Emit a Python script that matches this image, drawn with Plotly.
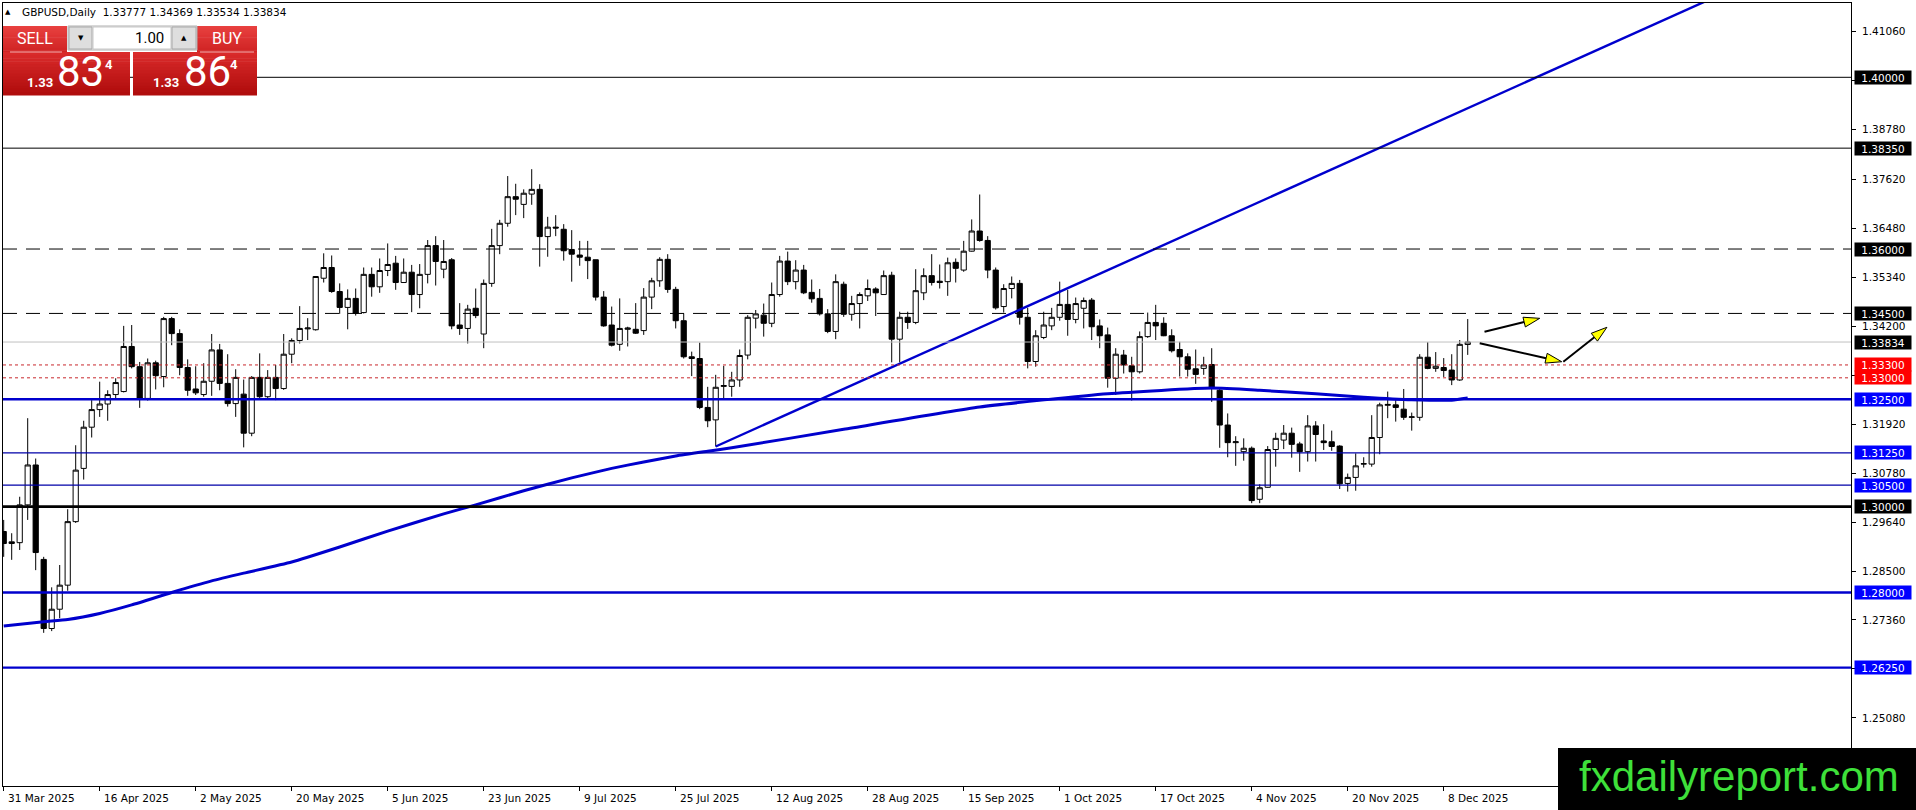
import numpy as np
import pandas as pd
import plotly.graph_objects as go

# ---------------- data ----------------
dates = pd.bdate_range("2025-03-31", periods=184)

open_ = [1.2942,1.2914,1.2916,1.3004,1.3097,1.2877,1.2716,1.2761,1.2817,1.2965,
         1.3089,1.3185,1.3226,1.3239,1.3261,1.3268,1.3373,1.3326,1.3252,1.3335,
         1.3303,1.3438,1.3403,1.3324,1.3274,1.3261,1.3292,1.3365,1.3287,1.3240,
         1.3262,1.3171,1.3301,1.3256,1.3301,1.3275,1.3355,1.3387,1.3414,1.3412,
         1.3532,1.3557,1.3501,1.3464,1.3485,1.3452,1.3541,1.3512,1.3550,1.3567,
         1.3522,1.3546,1.3494,1.3541,1.3608,1.3553,1.3575,1.3423,1.3415,1.3462,
         1.3402,1.3520,1.3608,1.3660,1.3722,1.3704,1.3728,1.3739,1.3629,1.3651,
         1.3646,1.3599,1.3586,1.3581,1.3575,1.3488,1.3423,1.3378,1.3413,1.3413,
         1.3410,1.3488,1.3526,1.3576,1.3506,1.3433,1.3349,1.3345,1.3231,1.3202,
         1.3280,1.3280,1.3295,1.3353,1.3439,1.3446,1.3427,1.3494,1.3572,1.3524,
         1.3551,1.3499,1.3485,1.3449,1.3408,1.3518,1.3448,1.3473,1.3491,1.3507,
         1.3494,1.3539,1.3390,1.3441,1.3429,1.3498,1.3538,1.3525,1.3524,1.3569,
         1.3551,1.3595,1.3642,1.3620,1.3551,1.3466,1.3508,1.3520,1.3441,1.3338,
         1.3394,1.3421,1.3441,1.3471,1.3436,1.3462,1.3481,1.3421,1.3400,1.3299,
         1.3353,1.3328,1.3314,1.3396,1.3429,1.3427,1.3398,1.3366,1.3349,1.3321,
         1.3322,1.3331,1.3271,1.3190,1.3149,1.3128,1.3136,1.3017,1.3045,1.3133,
         1.3155,1.3171,1.3146,1.3128,1.3188,1.3153,1.3151,1.3141,1.3054,1.3068,
         1.3099,1.3099,1.3161,1.3236,1.3237,1.3227,1.3208,1.3208,1.3348,1.3322,
         1.3324,1.3318,1.3295,1.33777]
high = [1.2969,1.2938,1.3023,1.3206,1.3112,1.2883,1.2812,1.2864,1.2994,1.3143,
        1.3200,1.3248,1.3291,1.3271,1.3299,1.3421,1.3423,1.3337,1.3345,1.3340,
        1.3442,1.3442,1.3413,1.3343,1.3327,1.3334,1.3402,1.3379,1.3355,1.3320,
        1.3296,1.3304,1.3357,1.3318,1.3330,1.3402,1.3392,1.3467,1.3439,1.3537,
        1.3590,1.3585,1.3520,1.3506,1.3508,1.3557,1.3557,1.3578,1.3613,1.3584,
        1.3578,1.3563,1.3565,1.3621,1.3630,1.3621,1.3579,1.3474,1.3470,1.3508,
        1.3529,1.3647,1.3668,1.3770,1.3752,1.3739,1.3786,1.3751,1.3675,1.3679,
        1.3658,1.3644,1.3619,1.3619,1.3575,1.3502,1.3466,1.3485,1.3419,1.3474,
        1.3509,1.3533,1.3581,1.3588,1.3512,1.3450,1.3361,1.3382,1.3279,1.3307,
        1.3328,1.3314,1.3366,1.3446,1.3458,1.3473,1.3522,1.3584,1.3594,1.3574,
        1.3563,1.3529,1.3507,1.3460,1.3541,1.3524,1.3491,1.3499,1.3529,1.3511,
        1.3550,1.3547,1.3454,1.3454,1.3553,1.3555,1.3588,1.3564,1.3580,1.3578,
        1.3619,1.3669,1.3727,1.3630,1.3557,1.3518,1.3536,1.3528,1.3463,1.3411,
        1.3454,1.3463,1.3524,1.3505,1.3487,1.3487,1.3486,1.3436,1.3417,1.3369,
        1.3365,1.3349,1.3408,1.3452,1.3470,1.3441,1.3413,1.3384,1.3357,1.3366,
        1.3349,1.3369,1.3277,1.3217,1.3164,1.3159,1.3140,1.3052,1.3141,1.3172,
        1.3190,1.3184,1.3151,1.3213,1.3199,1.3192,1.3177,1.3143,1.3077,1.3124,
        1.3115,1.3213,1.3242,1.3268,1.3248,1.3274,1.3219,1.3355,1.3383,1.3360,
        1.3346,1.3355,1.3388,1.34369]
low = [1.2883,1.2876,1.2899,1.2969,1.2852,1.2706,1.2710,1.2740,1.2804,1.2962,
       1.3063,1.3161,1.3209,1.3200,1.3252,1.3266,1.3322,1.3230,1.3247,1.3273,
       1.3278,1.3376,1.3306,1.3258,1.3260,1.3256,1.3258,1.3271,1.3233,1.3209,
       1.3138,1.3164,1.3252,1.3252,1.3248,1.3272,1.3334,1.3380,1.3388,1.3410,
       1.3522,1.3498,1.3449,1.3413,1.3445,1.3450,1.3489,1.3498,1.3537,1.3505,
       1.3521,1.3453,1.3462,1.3520,1.3515,1.3532,1.3413,1.3400,1.3380,1.3439,
       1.3369,1.3512,1.3588,1.3652,1.3679,1.3672,1.3703,1.3559,1.3582,1.3630,
       1.3573,1.3524,1.3561,1.3530,1.3480,1.3419,1.3373,1.3363,1.3373,1.3402,
       1.3400,1.3460,1.3512,1.3498,1.3415,1.3345,1.3304,1.3227,1.3185,1.3140,
       1.3252,1.3256,1.3279,1.3343,1.3415,1.3396,1.3418,1.3489,1.3516,1.3506,
       1.3495,1.3475,1.3445,1.3404,1.3390,1.3442,1.3433,1.3415,1.3479,1.3444,
       1.3494,1.3336,1.3336,1.3414,1.3425,1.3481,1.3515,1.3508,1.3491,1.3522,
       1.3547,1.3594,1.3617,1.3532,1.3459,1.3452,1.3485,1.3424,1.3322,1.3326,
       1.3390,1.3411,1.3433,1.3398,1.3427,1.3415,1.3388,1.3369,1.3277,1.3260,
       1.3310,1.3247,1.3310,1.3393,1.3388,1.3397,1.3359,1.3303,1.3303,1.3286,
       1.3307,1.3244,1.3137,1.3115,1.3095,1.3107,1.3008,1.3008,1.3044,1.3093,
       1.3134,1.3114,1.3081,1.3105,1.3105,1.3132,1.3130,1.3041,1.3035,1.3037,
       1.3091,1.3093,1.3122,1.3206,1.3198,1.3202,1.3177,1.3200,1.3320,1.3314,
       1.3302,1.3283,1.3293,1.33534]
close = [1.2914,1.2918,1.3004,1.3097,1.2893,1.2716,1.2761,1.2817,1.2965,1.3085,
         1.3185,1.3226,1.3239,1.3261,1.3289,1.3373,1.3326,1.3252,1.3335,1.3305,
         1.3438,1.3403,1.3324,1.3271,1.3265,1.3292,1.3365,1.3287,1.3240,1.3301,
         1.3171,1.3301,1.3256,1.3301,1.3275,1.3355,1.3387,1.3415,1.3416,1.3536,
         1.3557,1.3501,1.3464,1.3485,1.3450,1.3541,1.3512,1.3550,1.3564,1.3522,
         1.3546,1.3494,1.3541,1.3608,1.3571,1.3571,1.3421,1.3415,1.3460,1.3445,
         1.3520,1.3608,1.3660,1.3722,1.3716,1.3730,1.3739,1.3629,1.3651,1.3649,
         1.3596,1.3588,1.3581,1.3573,1.3488,1.3421,1.3376,1.3415,1.3416,1.3404,
         1.3488,1.3526,1.3576,1.3506,1.3433,1.3349,1.3345,1.3231,1.3200,1.3278,
         1.3282,1.3295,1.3352,1.3441,1.3449,1.3427,1.3494,1.3572,1.3524,1.3551,
         1.3498,1.3484,1.3449,1.3408,1.3524,1.3448,1.3473,1.3494,1.3508,1.3498,
         1.3538,1.3390,1.3441,1.3429,1.3503,1.3538,1.3522,1.3522,1.3568,1.3555,
         1.3595,1.3642,1.3620,1.3551,1.3463,1.3508,1.3520,1.3441,1.3338,1.3398,
         1.3423,1.3441,1.3471,1.3436,1.3473,1.3480,1.3419,1.3398,1.3299,1.3355,
         1.3330,1.3314,1.3396,1.3429,1.3421,1.3398,1.3363,1.3349,1.3320,1.3308,
         1.3330,1.3275,1.3190,1.3149,1.3151,1.3136,1.3014,1.3044,1.3133,1.3159,
         1.3171,1.3145,1.3128,1.3188,1.3168,1.3149,1.3140,1.3053,1.3068,1.3095,
         1.3100,1.3161,1.3237,1.3238,1.3231,1.3208,1.3209,1.3348,1.3322,1.3327,
         1.3317,1.3295,1.3378,1.33834]

# moving average (read at sample bars)
ma_idx = [0, 5, 8, 12, 16, 21, 26, 30, 36, 42, 48, 55, 59, 65, 71, 76, 80, 84, 88, 91,
          105, 122, 138, 151, 157, 164, 170, 176, 181, 183]
ma_val = [1.2722, 1.2732, 1.2737, 1.2751, 1.2771, 1.2800, 1.2827, 1.2845, 1.2871, 1.2906,
          1.2943, 1.2983, 1.3004, 1.3037, 1.3067, 1.3089, 1.3104, 1.3118, 1.3129, 1.3137,
          1.3180, 1.3232, 1.3263, 1.3276, 1.3271, 1.3263, 1.3255, 1.3249, 1.3248, 1.3253]

# trend line anchors (bar index, price)
trend_idx = [89, 191.6]
trend_val = [1.3140, 1.4000]

# price-axis ticks
ytick_vals = [1.41060, 1.39920, 1.38780, 1.37620, 1.36480, 1.35340, 1.34200, 1.33060,
              1.31920, 1.30780, 1.29640, 1.28500, 1.27360, 1.26220, 1.25080]

# horizontal levels: price, line colour, width, dash, label box colour
level_price = [1.40000, 1.38350, 1.36000, 1.34500, 1.33834, 1.33300, 1.33000,
               1.32500, 1.31250, 1.30500, 1.30000, 1.28000, 1.26250]
level_color = ["black", "black", "black", "black", "#c0c0c0", "#c8282d", "#c8282d",
               "#0000cd", "#0000a8", "#0000a8", "black", "#0000cd", "#0000cd"]
level_width = [1, 1, 1, 1, 1, 1, 1, 2.6, 1.3, 1.3, 2.6, 2.6, 2.2]
level_dash = ["solid", "solid", "14px,9px", "14px,9px", "solid", "3px,3px", "3px,3px",
              "solid", "solid", "solid", "solid", "solid", "solid"]
level_box = ["black", "black", "black", "black", "black", "#ff0000", "#ff0000",
             "#0000ff", "#0000ff", "#0000ff", "black", "#0000ff", "#0000ff"]

# hand-drawn arrows (bar index, price) start -> tip
arrow_from = [(185.1, 1.34074), (184.5, 1.33804), (194.95, 1.33375)]
arrow_to = [(192.0, 1.34386), (194.75, 1.33375), (200.4, 1.34177)]

header_text = "GBPUSD,Daily\u00a0\u00a01.33777 1.34369 1.33534 1.33834"

# ---------------- geometry ----------------
FW, FH = 1916, 810
L, T, R, B = 3, 3, 1851, 786
PW, PH = R - L, B - T
XR = [-0.0875, 230.91]
YR = [1.23492, 1.41731]

def px_x(px):
    return (px - L) / PW

def px_y(py):
    return 1 - (py - T) / PH

def d2px(ix, p):
    X = L + (ix - XR[0]) / (XR[1] - XR[0]) * PW
    Y = T + (YR[1] - p) / (YR[1] - YR[0]) * PH
    return X, Y

FONT = "DejaVu Sans"
idx = np.arange(len(dates))

fig = go.Figure()

fig.add_trace(go.Candlestick(
    x=idx, open=open_, high=high, low=low, close=close,
    increasing=dict(fillcolor="white", line=dict(color="black", width=1)),
    decreasing=dict(fillcolor="black", line=dict(color="black", width=1)),
    whiskerwidth=0, hoverinfo="skip", showlegend=False))

fig.add_trace(go.Scatter(x=ma_idx, y=ma_val, mode="lines",
                         line=dict(color="#0000cd", width=3, shape="spline", smoothing=0.5),
                         hoverinfo="skip", showlegend=False))

slope = (trend_val[1] - trend_val[0]) / (trend_idx[1] - trend_idx[0])
t_end_idx = trend_idx[0] + (YR[1] + 0.002 - trend_val[0]) / slope
fig.add_trace(go.Scatter(x=[trend_idx[0], t_end_idx],
                         y=[trend_val[0], trend_val[0] + slope * (t_end_idx - trend_idx[0])],
                         mode="lines", line=dict(color="#0000cd", width=2.4),
                         hoverinfo="skip", showlegend=False))

shapes = []
annotations = []

for p, c, w, d in zip(level_price, level_color, level_width, level_dash):
    shapes.append(dict(type="line", xref="paper", x0=0, x1=1, yref="y", y0=p, y1=p,
                       line=dict(color=c, width=w, dash=d), layer="above"))

for p, bc in zip(level_price, level_box):
    annotations.append(dict(text=f"{p:.5f}", xref="paper", x=px_x(1854), xanchor="left",
                            yref="y", y=p, yanchor="middle", showarrow=False,
                            bgcolor=bc, width=56, height=13, borderpad=0,
                            font=dict(family=FONT, size=10.5, color="white")))

# arrows
for (a0, a1) in zip(arrow_from, arrow_to):
    x0, y0 = d2px(*a0)
    x1, y1 = d2px(*a1)
    dx, dy = x1 - x0, y1 - y0
    ln = (dx * dx + dy * dy) ** 0.5
    ux, uy = dx / ln, dy / ln
    hl, hw = 16, 5
    bx, by = x1 - ux * hl, y1 - uy * hl
    shapes.append(dict(type="line", xref="paper", yref="paper",
                       x0=px_x(x0), y0=px_y(y0), x1=px_x(bx), y1=px_y(by),
                       line=dict(color="black", width=2), layer="above"))
    pts = [(x1, y1), (bx - uy * hw, by + ux * hw), (bx + uy * hw, by - ux * hw)]
    path = "M " + " L ".join(f"{px_x(a):.6f},{px_y(b):.6f}" for a, b in pts) + " Z"
    shapes.append(dict(type="path", xref="paper", yref="paper", path=path,
                       fillcolor="#ffff00", line=dict(color="black", width=1), layer="above"))

# ---------- trade panel ----------
def hex2rgb(h):
    h = h.lstrip("#")
    return tuple(int(h[i:i + 2], 16) for i in (0, 2, 4))

def grad_rect(x0, y0, x1, y1, ctop, cbot, n=14):
    a, b = hex2rgb(ctop), hex2rgb(cbot)
    hh = (y1 - y0) / n
    for k in range(n):
        f = k / (n - 1)
        col = "rgb(%d,%d,%d)" % tuple(round(a[j] + (b[j] - a[j]) * f) for j in range(3))
        shapes.append(dict(type="rect", xref="paper", yref="paper",
                           x0=px_x(x0), x1=px_x(x1), y0=px_y(y0 + k * hh), y1=px_y(y0 + (k + 1) * hh + 0.6),
                           fillcolor=col, line=dict(width=0), layer="above"))

def rect(x0, y0, x1, y1, fill, lc=None, lw=0):
    shapes.append(dict(type="rect", xref="paper", yref="paper",
                       x0=px_x(x0), x1=px_x(x1), y0=px_y(y0), y1=px_y(y1),
                       fillcolor=fill, line=dict(color=lc or fill, width=lw), layer="above"))

def txt(s, X, Y, size, color, family="Roboto", xanchor="center", weight="normal"):
    annotations.append(dict(text=s, xref="paper", yref="paper", x=px_x(X), y=px_y(Y),
                            xanchor=xanchor, yanchor="middle", showarrow=False,
                            font=dict(family=family, size=size, color=color, weight=weight)))

grad_rect(3, 26, 67, 52, "#e8403f", "#d02424")       # SELL
grad_rect(197, 26, 257, 52, "#e8403f", "#d02424")    # BUY
grad_rect(3, 52, 130, 95, "#d92a2a", "#b00d0d")      # big sell
grad_rect(133, 52, 257, 95, "#d92a2a", "#b00d0d")    # big buy
shapes.append(dict(type="line", xref="paper", yref="paper", x0=px_x(10), x1=px_x(62),
                   y0=px_y(52), y1=px_y(52), line=dict(color="#f2b0b0", width=1), layer="above"))
shapes.append(dict(type="line", xref="paper", yref="paper", x0=px_x(200), x1=px_x(254),
                   y0=px_y(52), y1=px_y(52), line=dict(color="#f2b0b0", width=1), layer="above"))
rect(68, 26, 197, 50, "#f0f0f0", "#b0b0b0", 1)
rect(69, 27, 92, 49, "#dedede", "#a8a8a8", 1)
rect(93, 27, 171, 49, "white", "#c8c8c8", 1)
rect(172, 27, 196, 49, "#dedede", "#a8a8a8", 1)

txt("SELL", 35, 39, 16, "white")
txt("BUY", 227, 39, 16, "white")
txt("1.00", 166, 38, 15, "black", xanchor="right")
txt("\u25bc", 80.5, 38, 7, "black", family=FONT)
txt("\u25b2", 184, 38, 7, "black", family=FONT)
txt("1.33", 40, 82, 13, "white", weight="bold")
txt("83", 80, 71, 42, "white")
txt("4", 108.5, 64, 13, "white", weight="bold")
txt("1.33", 166, 82, 13, "white", weight="bold")
txt("86", 207.5, 71, 42, "white")
txt("4", 234, 64, 13, "white", weight="bold")

# header
txt("\u25b2", 8, 12, 7, "black", family=FONT)
txt(header_text, 20, 12.5, 10.5, "black", family=FONT, xanchor="left")

# date labels
label_idx = list(range(0, len(dates), 12))
for i in label_idx:
    d = dates[i]
    annotations.append(dict(text=f"{d.day} {d.strftime('%b %Y')}", xref="x", x=i, xanchor="left",
                            xshift=2, yref="paper", y=px_y(797.5), yanchor="middle",
                            showarrow=False, font=dict(family=FONT, size=10.5, color="black")))

# logo
rect(1558, 748, 1916, 810, "black")
txt("fxdailyreport.com", 1739, 776, 42, "#3ee03a", family="Liberation Sans")

fig.update_layout(
    width=FW, height=FH, autosize=False,
    margin=dict(l=L, r=FW - R, t=T, b=FH - B, pad=0),
    paper_bgcolor="white", plot_bgcolor="white",
    showlegend=False, boxgap=0.35, boxgroupgap=0,
    shapes=shapes, annotations=annotations,
    xaxis=dict(range=XR, showgrid=False, zeroline=False, rangeslider=dict(visible=False),
               showline=True, mirror=True, linecolor="black", linewidth=1,
               tickvals=label_idx, ticks="outside", ticklen=4, tickcolor="black",
               showticklabels=False, fixedrange=True),
    yaxis=dict(range=YR, side="right", showgrid=False, zeroline=False,
               showline=True, mirror=True, linecolor="black", linewidth=1,
               tickvals=ytick_vals, ticktext=[f"{v:.5f}" for v in ytick_vals],
               ticks="outside", ticklen=4, tickcolor="black", ticklabelstandoff=4,
               tickfont=dict(family=FONT, size=10.5, color="black"), fixedrange=True),
)

fig.write_html("out.html", config={"displayModeBar": False, "staticPlot": True},
               post_script="document.body.style.margin='0';document.body.style.overflow='hidden';")
